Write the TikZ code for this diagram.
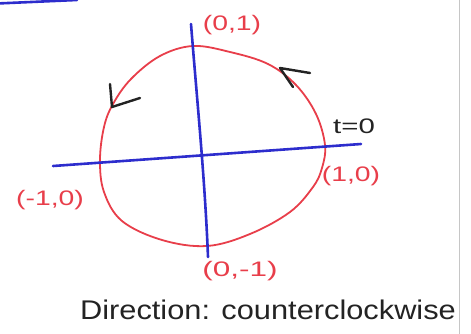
\documentclass[tikz,border=0pt]{standalone}
\usepackage{fontspec}
\setmainfont{Liberation Sans}
\definecolor{penred}{RGB}{232,62,74}
\definecolor{penblue}{RGB}{45,45,205}
\definecolor{penblack}{RGB}{35,35,35}
\newcommand\widetxt[2]{\scalebox{#1}[1]{#2}}
\tikzset{
  axisline/.style={draw=penblue,line width=2.6pt,line cap=round},
  loopline/.style={draw=penred,line width=1.8pt},
  arrowmark/.style={draw=penblack,line width=2.4pt,line cap=round,line join=round},
  redlabel/.style={text=penred,inner sep=0pt,font=\fontsize{21}{21}\selectfont},
  blacklabel/.style={text=penblack,inner sep=0pt,font=\fontsize{21}{21}\selectfont},
}
\begin{document}
\begin{tikzpicture}[x=1pt,y=-1pt]
\useasboundingbox (0,0) rectangle (471,334);
\clip (0,0) rectangle (471,334);
% page edge line
\coordinate (edgetop) at (459.5,0);
\coordinate (edgebot) at (459.5,334);
\draw[gray!45,line width=1.6pt] (edgetop) -- (edgebot);
% stray stroke top-left
\coordinate (strayA) at (-3,3.5);
\coordinate (strayB) at (77,0);
\draw[axisline] (strayA) -- (strayB);
% unit loop
\draw[loopline] plot[smooth cycle,tension=0.6] coordinates {
 (193,46) (230,52) (268,64) (296,85) (316,114) (325,145) (322,168)
 (313,187) (290,212) (250,234) (207,246) (162,240) (122,221)
 (104,192) (100,160) (104,127) (113,104) (131,79) (160,56)};
% axes
\coordinate (yTop) at (191,24);
\coordinate (yBot) at (208,257);
\coordinate (xLeft) at (53,166);
\coordinate (xRight) at (361,144);
\draw[axisline] (xLeft) -- (xRight);
\draw[axisline] (yTop) .. controls (197,100) and (205,180) .. (yBot);
% direction marks
\coordinate (tipA) at (280,68);
\coordinate (armA1) at (310,73);
\coordinate (armA2) at (293,87);
\draw[arrowmark] (armA1) -- (tipA) -- (armA2);
\coordinate (tipB) at (112,107);
\coordinate (armB1) at (110,84);
\coordinate (armB2) at (140,98);
\draw[arrowmark] (armB1) -- (tipB) -- (armB2);
% labels
\node[redlabel] (ptTop) at (232,25) {\widetxt{1.35}{(0,1)}};
\node[redlabel] (ptRight) at (351,176) {\widetxt{1.35}{(1,0)}};
\node[redlabel] (ptLeft) at (50,200) {\widetxt{1.35}{(-1,0)}};
\node[redlabel] (ptBot) at (240,271) {\widetxt{1.5}{(0,-1)}};
\node[blacklabel] (tzero) at (354,126) {\widetxt{1.4}{t=0}};
\node[text=penblack,inner sep=0pt,font=\fontsize{27}{27}\selectfont] (dirtext) at (268,310) {\widetxt{1.14}{Direction: counterclockwise}};
\end{tikzpicture}
\end{document}
